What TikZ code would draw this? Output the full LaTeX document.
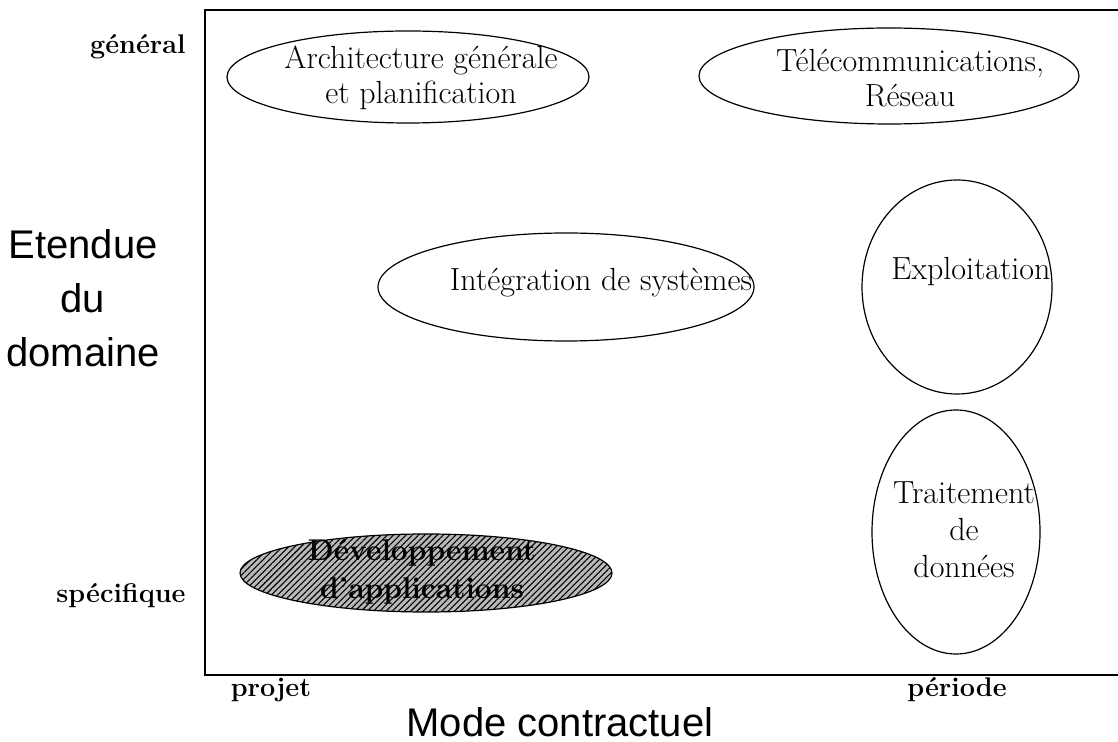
\documentclass[tikz,border=0pt]{standalone}
\usepackage{fontspec}
\newfontfamily\hsans{Liberation Sans}
\usetikzlibrary{shapes.geometric,patterns.meta}
\begin{document}
\begin{tikzpicture}[x=0.5pt,y=-0.5pt,
  oval/.style={draw,ellipse,line width=0.6pt,inner sep=0pt},
  ovtext/.style={align=center,font=\fontsize{16}{17.5}\selectfont,inner sep=0pt},
  axlabel/.style={font=\fontsize{13.5}{16}\selectfont\bfseries,inner sep=0pt},
  sanslabel/.style={align=center,font=\fontsize{20}{27}\selectfont\hsans,inner sep=0pt}]
\useasboundingbox (0,0) rectangle (1118,742);
% frame
\coordinate (ftr) at (1118,10);
\coordinate (fbr) at (1118,675);
\coordinate (ftl) at (205,10);
\coordinate (fbl) at (205,675);
\draw[line width=0.7pt] (ftr) -- (ftl) -- (fbl) -- (fbr);
% ellipses (sizes in pt = px/2)
\node[oval,minimum width=181pt,minimum height=46pt] (e1) at (408,77) {};
\node[oval,minimum width=190pt,minimum height=48pt] (e2) at (889,76) {};
\node[oval,minimum width=188pt,minimum height=54pt] (e3) at (566,287) {};
\node[oval,minimum width=95pt,minimum height=107pt] (e4) at (957,287) {};
\node[oval,minimum width=84pt,minimum height=122pt] (e5) at (956,532) {};
\node[oval,minimum width=186pt,minimum height=39pt,fill=gray!55,
      postaction={pattern={Lines[angle=45,distance=2.2pt,line width=0.55pt]}}] (e6) at (426,573) {};
% texts
\node[ovtext] (t1) at (421,78) {Architecture générale\\et planification};
\node[ovtext] (t2) at (910,78) {Télécommunications,\\Réseau};
\node[ovtext] (t3) at (601,283) {Intégration de systèmes};
\node[ovtext] (t4) at (971,272) {Exploitation};
\node[ovtext,font=\fontsize{16}{18.5}\selectfont] (t5) at (964,530) {Traitement\\de\\données};
\node[align=center,inner sep=0pt,font=\fontsize{15}{19}\selectfont\bfseries] (t6) at (422,572) {Développement\\d'applications};
% axis labels
\node[axlabel,anchor=east] (gen) at (186,47) {général};
\node[axlabel,anchor=east] (spe) at (186,596) {spécifique};
\node[axlabel] (proj) at (271,690) {projet};
\node[axlabel] (per) at (957,690) {période};
\node[sanslabel] (etd) at (83,298) {Etendue\\du\\domaine};
\node[sanslabel] (mode) at (560,722) {Mode contractuel};
\end{tikzpicture}
\end{document}
